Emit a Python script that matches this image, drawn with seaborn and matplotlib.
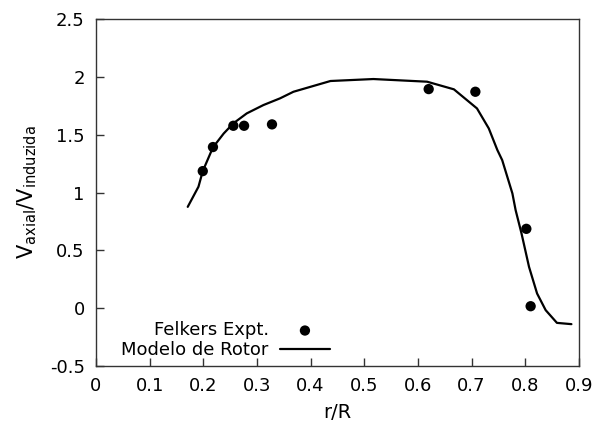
import pandas as pd
import numpy as np
import matplotlib
matplotlib.use('Agg')
import matplotlib.pyplot as plt
import seaborn as sns

# Dados experimentais (Felkers)
exp_r = [0.199, 0.218, 0.256, 0.276, 0.328, 0.620, 0.707, 0.802, 0.810]
exp_v = [1.185, 1.393, 1.577, 1.577, 1.589, 1.894, 1.871, 0.686, 0.017]

# Modelo de rotor
mod_r = [0.171, 0.191, 0.199, 0.218, 0.238, 0.256, 0.281, 0.312, 0.343, 0.368,
         0.437, 0.517, 0.617, 0.667, 0.710, 0.732, 0.748, 0.757, 0.776, 0.782,
         0.793, 0.807, 0.822, 0.838, 0.859, 0.886]
mod_v = [0.876, 1.05, 1.185, 1.39, 1.51, 1.598, 1.684, 1.756, 1.814, 1.871,
         1.964, 1.981, 1.958, 1.892, 1.727, 1.554, 1.367, 1.28, 0.992, 0.848,
         0.646, 0.357, 0.127, -0.017, -0.127, -0.138]

exp = pd.DataFrame({'r': exp_r, 'v': exp_v})
mod = pd.DataFrame({'r': mod_r, 'v': mod_v})

sns.set_style('ticks')
plt.rcParams['font.family'] = ['DejaVu Sans']
plt.rcParams['mathtext.default'] = 'regular'
plt.rcParams['text.color'] = 'black'
plt.rcParams['axes.labelcolor'] = 'black'

fig = plt.figure(figsize=(5.95, 4.26), dpi=100)
ax = fig.add_axes([0.1613, 0.1408, 0.8117, 0.8146])

sns.scatterplot(data=exp, x='r', y='v', ax=ax, color='black', s=55,
                edgecolor='none', label='Felkers Expt.', zorder=3)
sns.lineplot(data=mod, x='r', y='v', ax=ax, color='black', linewidth=1.6,
             label='Modelo de Rotor', sort=False, estimator=None)

ax.set_xlim(0, 0.9)
ax.set_ylim(-0.5, 2.5)
ax.set_xticks(np.arange(0, 0.91, 0.1))
ax.set_xticklabels(['0', '0.1', '0.2', '0.3', '0.4', '0.5', '0.6', '0.7', '0.8', '0.9'])
ax.set_yticks(np.arange(-0.5, 2.51, 0.5))
ax.set_yticklabels(['-0.5', '0', '0.5', '1', '1.5', '2', '2.5'])
ax.tick_params(direction='in', length=6, width=1, labelsize=13, color='#333333',
               labelcolor='black', pad=8, top=False, right=False)
for sp in ax.spines.values():
    sp.set_visible(True)
    sp.set_color('#333333')
    sp.set_linewidth(1)

ax.set_xlabel('r/R', fontsize=14, labelpad=6)
ax.set_ylabel(r'V$_{axial}$/V$_{induzida}$', fontsize=15, labelpad=8)

ax.legend(loc='lower right', bbox_to_anchor=(0.485, 0.02), frameon=False,
          markerfirst=False, fontsize=13, handlelength=2.8, labelspacing=0.1,
          borderaxespad=0, borderpad=0, handletextpad=0.6)

fig.savefig('out.png', dpi=100)
